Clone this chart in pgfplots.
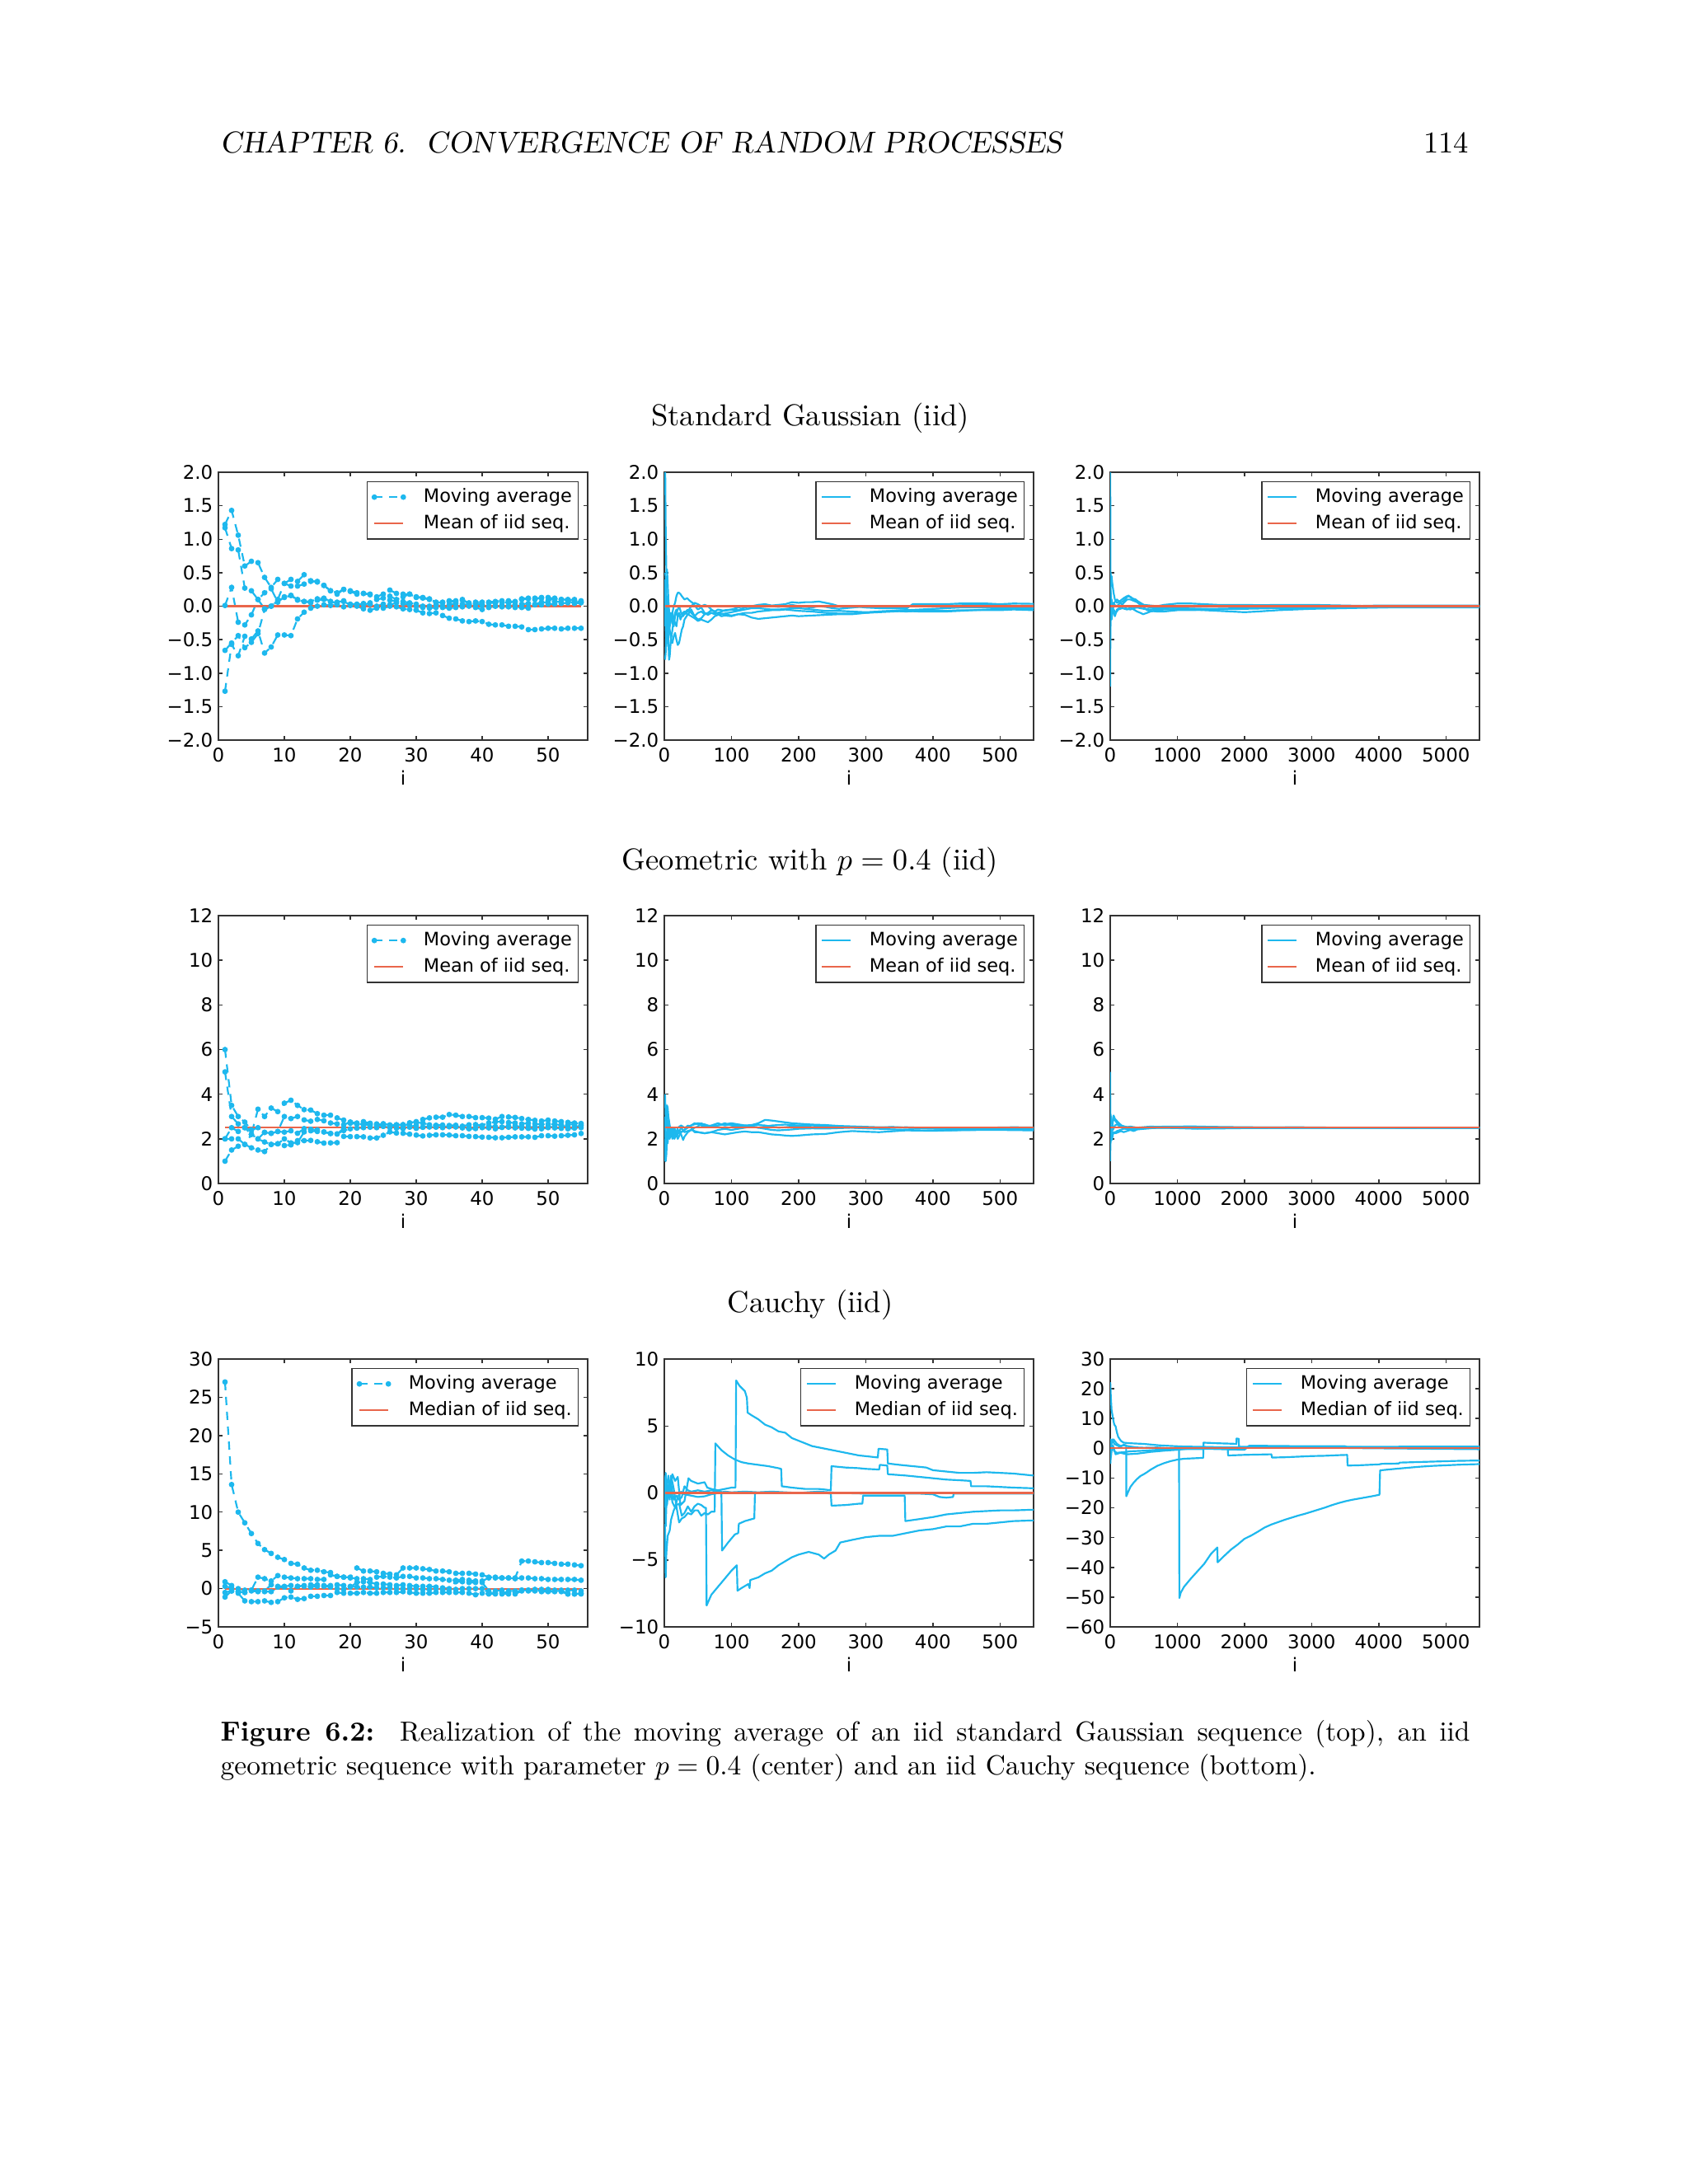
\documentclass[border=0pt]{standalone}
\usepackage{fontspec}
\usepackage{pgfplots}
\usepackage{pgfplotstable}
\pgfplotsset{compat=1.18}

\newfontfamily\plotfont{DejaVu Sans}
\newcommand\pf{\plotfont\fontsize{6.7}{8}\selectfont}
\newcommand\tf{\plotfont\fontsize{6.85}{8}\selectfont}
\newcommand\bk{\fontsize{10.95}{13.6}\selectfont}

\definecolor{cy}{HTML}{1DB8EE}
\definecolor{rd}{HTML}{E9664B}

\pgfplotsset{
  pane/.style={scale only axis, width=133.88pt, height=97.12pt, anchor=south west,
    scaled ticks=false,
    axis line style={black!80, line width=0.55pt},
    tick align=inside, tick pos=both, major tick length=1.6pt,
    every tick/.style={black!80, line width=0.45pt},
    ticklabel style={font=\tf},
    xticklabel style={inner sep=0pt, yshift=-2.7pt},
    yticklabel style={inner sep=0pt, xshift=-1.8pt},
    xlabel={i},
    xlabel style={font=\tf, at={(axis description cs:0.5,0)}, anchor=north, inner sep=0pt, yshift=-11pt},
    legend cell align=left,
    legend style={at={(1,1)}, anchor=north east, xshift=-3.2pt, yshift=-3.2pt,
      draw=black!80, line width=0.45pt, font=\pf, inner xsep=1.8pt, inner ysep=0.8pt,
      row sep=0pt, nodes={inner xsep=0.5pt, inner ysep=1.5pt},
      /tikz/every odd column/.append style={column sep=6pt}},
  },
  mdash/.style={cy, line width=0.65pt, dash pattern=on 3pt off 2.4pt, mark=*, mark size=0.85pt,
    mark options={solid, fill=cy, draw=cy, line width=0.3pt},
    legend image code/.code={\draw[##1] plot coordinates {(0pt,0pt) (10.5pt,0pt)};}},
  mline/.style={cy, line width=0.65pt, line join=round,
    legend image code/.code={\draw[##1] (0pt,0pt) -- (10.5pt,0pt);}},
  mref/.style={rd, line width=0.65pt,
    legend image code/.code={\draw[##1] (0pt,0pt) -- (10.5pt,0pt);}},
  xs/.style={xmin=0, xmax=56, xtick={0,10,20,30,40,50}, xticklabels={0,10,20,30,40,50}},
  xm/.style={xmin=0, xmax=550, xtick={0,100,200,300,400,500}, xticklabels={0,100,200,300,400,500}},
  xl/.style={xmin=0, xmax=5500, xtick={0,1000,2000,3000,4000,5000}, xticklabels={0,1000,2000,3000,4000,5000}},
  yg/.style={ymin=-2, ymax=2, ytick={-2,-1.5,-1,-0.5,0,0.5,1,1.5,2},
    yticklabels={−2.0,−1.5,−1.0,−0.5,0.0,0.5,1.0,1.5,2.0}},
  yq/.style={ymin=0, ymax=12, ytick={0,2,4,6,8,10,12}, yticklabels={0,2,4,6,8,10,12}},
  yc1/.style={ymin=-5, ymax=30, ytick={-5,0,5,10,15,20,25,30}, yticklabels={−5,0,5,10,15,20,25,30}},
  yc2/.style={ymin=-10, ymax=10, ytick={-10,-5,0,5,10}, yticklabels={−10,−5,0,5,10}},
  yc3/.style={ymin=-60, ymax=30, ytick={-60,-50,-40,-30,-20,-10,0,10,20,30},
    yticklabels={−60,−50,−40,−30,−20,−10,0,10,20,30}},
}

% moving averages, i = 1..55, five realizations each
\pgfplotstableread{
i a b c d e
1 1.22 1.17 0.01 -0.66 -1.27
2 1.43 0.86 0.28 -0.55 -0.57
3 1.06 0.84 -0.24 -0.44 -0.74
4 0.60 0.27 -0.28 -0.62 -0.45
5 0.67 0.23 -0.13 -0.54 -0.49
6 0.65 0.10 0.10 -0.41 -0.37
7 0.43 0.20 -0.04 -0.05 -0.70
8 0.28 0.26 0.00 0.00 -0.61
9 0.40 0.06 0.10 0.08 -0.43
10 0.34 0.14 0.34 0.13 -0.43
11 0.40 0.16 0.30 0.16 -0.44
12 0.37 0.10 0.30 0.09 -0.19
13 0.47 0.07 0.33 0.07 -0.09
14 0.37 0.07 0.38 0.05 -0.03
15 0.37 0.11 0.36 0.09 0.00
16 0.31 0.12 0.31 0.10 0.02
17 0.23 0.07 0.23 0.07 0.01
18 0.20 0.06 0.18 0.04 0.02
19 0.25 0.08 0.25 0.07 -0.01
20 0.23 0.03 0.22 0.02 0.01
21 0.20 0.03 0.18 0.02 0.00
22 0.19 0.02 0.19 0.04 -0.04
23 0.18 0.05 0.17 0.03 -0.06
24 0.14 0.00 0.10 -0.02 -0.03
25 0.18 0.03 0.12 -0.01 -0.03
26 0.24 0.09 0.15 0.02 0.00
27 0.19 0.07 0.10 0.05 -0.01
28 0.18 0.07 0.14 0.04 -0.04
29 0.18 0.05 0.18 0.02 -0.05
30 0.14 0.03 0.13 0.00 -0.06
31 0.13 0.00 0.12 -0.02 -0.10
32 0.11 0.00 0.10 -0.03 -0.11
33 0.06 0.02 0.05 -0.02 -0.10
34 0.05 0.00 0.06 -0.02 -0.14
35 0.08 0.02 0.07 -0.03 -0.18
36 0.08 0.04 0.06 -0.02 -0.19
37 0.09 0.03 0.10 -0.01 -0.22
38 0.05 0.02 0.03 0.00 -0.23
39 0.06 0.03 0.04 -0.02 -0.22
40 0.06 0.01 0.02 -0.05 -0.23
41 0.06 0.00 0.05 -0.02 -0.27
42 0.07 0.00 0.05 0.00 -0.28
43 0.08 0.01 0.06 -0.01 -0.28
44 0.08 0.00 0.05 -0.01 -0.30
45 0.06 0.02 0.07 -0.02 -0.30
46 0.10 0.03 0.11 -0.02 -0.31
47 0.11 0.04 0.12 -0.03 -0.35
48 0.10 0.03 0.12 0.02 -0.35
49 0.13 0.06 0.12 0.02 -0.34
50 0.13 0.05 0.08 0.03 -0.33
51 0.11 0.07 0.12 0.03 -0.33
52 0.10 0.06 0.10 0.04 -0.34
53 0.09 0.07 0.10 0.05 -0.33
54 0.10 0.05 0.08 0.04 -0.33
55 0.08 0.06 0.06 0.05 -0.33
}\gausssmall

\pgfplotstableread{
i a b c d e
1 6.0 5.0 2.0 2.0 1.0
2 3.5 3.0 2.5 2.0 1.5
3 3.0 2.67 2.33 2.0 1.67
4 2.75 2.5 2.5 1.75 1.75
5 2.4 2.2 2.4 2.2 1.6
6 2.5 3.33 2.0 2.0 1.5
7 2.29 3.0 2.29 1.86 1.43
8 2.25 3.38 2.25 1.75 1.75
9 2.33 3.22 2.33 1.78 1.78
10 2.3 3.6 3.0 2.0 1.7
11 2.36 3.73 2.91 1.82 1.73
12 2.25 3.5 3.0 1.83 1.92
13 2.46 3.31 2.85 2.31 1.92
14 2.43 3.29 2.79 2.36 1.93
15 2.4 3.13 2.87 2.33 1.87
16 2.31 3.06 2.81 2.31 1.81
17 2.24 3.06 2.71 2.24 1.82
18 2.22 2.94 2.67 2.22 1.83
19 2.47 2.84 2.63 2.37 2.11
20 2.7 2.75 2.75 2.45 2.1
21 2.67 2.71 2.67 2.48 2.1
22 2.73 2.77 2.64 2.5 2.09
23 2.65 2.7 2.61 2.52 2.04
24 2.67 2.63 2.58 2.5 2.04
25 2.6 2.68 2.56 2.56 2.16
26 2.62 2.62 2.54 2.5 2.31
27 2.63 2.63 2.59 2.48 2.26
28 2.61 2.64 2.57 2.46 2.25
29 2.55 2.72 2.69 2.52 2.21
30 2.6 2.77 2.73 2.47 2.17
31 2.52 2.87 2.71 2.52 2.13
32 2.56 2.94 2.63 2.53 2.16
33 2.55 2.97 2.61 2.52 2.18
34 2.5 2.97 2.62 2.56 2.18
35 2.57 3.09 2.6 2.54 2.17
36 2.53 3.06 2.61 2.56 2.14
37 2.49 3.0 2.57 2.51 2.14
38 2.45 3.0 2.63 2.5 2.11
39 2.46 2.95 2.64 2.49 2.1
40 2.5 2.95 2.6 2.58 2.08
41 2.49 2.93 2.71 2.56 2.07
42 2.45 2.88 2.76 2.55 2.05
43 2.51 3.0 2.77 2.53 2.05
44 2.52 2.98 2.73 2.57 2.07
45 2.49 2.96 2.71 2.58 2.09
46 2.48 2.91 2.67 2.54 2.09
47 2.47 2.87 2.7 2.55 2.09
48 2.44 2.83 2.67 2.52 2.07
49 2.45 2.8 2.65 2.55 2.14
50 2.5 2.84 2.66 2.54 2.14
51 2.49 2.8 2.65 2.53 2.12
52 2.47 2.77 2.62 2.57 2.14
53 2.45 2.74 2.64 2.56 2.16
54 2.48 2.71 2.65 2.55 2.18
55 2.5 2.69 2.62 2.58 2.24
}\geomsmall

\pgfplotstableread{
i a b c d e
1 27.0 0.9 0.3 -0.5 -1.1
2 13.6 0.4 0.1 -0.3 -0.3
3 10.0 0.0 -0.4 -0.6 -0.4
4 8.6 -0.2 -0.5 -1.6 -0.5
5 7.2 -0.2 -0.2 -1.7 -0.3
6 5.9 1.5 -0.3 -1.7 -0.4
7 5.1 1.3 -0.3 -1.6 -0.4
8 4.6 1.0 0.5 -1.8 -0.4
9 4.1 1.7 0.3 -1.7 0.2
10 3.8 1.5 0.3 -1.2 0.2
11 3.3 1.4 0.4 -1.1 -0.3
12 3.2 1.3 0.3 -1.4 0.3
13 2.7 1.3 0.4 -1.3 0.3
14 2.4 1.3 0.5 -1.0 0.2
15 2.4 1.2 0.5 -1.0 0.3
16 2.2 1.2 0.4 -0.9 0.3
17 2.1 1.8 0.4 -0.9 0.2
18 1.6 1.6 0.0 -0.5 0.5
19 1.5 1.5 -0.1 -0.6 0.4
20 1.4 1.5 0.2 -0.6 0.3
21 1.3 2.7 0.8 -0.6 0.2
22 1.3 2.3 0.9 -0.5 0.2
23 1.2 2.3 0.8 -0.6 0.2
24 1.5 2.2 0.6 -0.6 0.1
25 1.6 2.0 0.6 -0.5 0.1
26 1.5 1.9 0.5 -0.5 0.1
27 1.4 1.8 0.4 -0.5 0.0
28 1.6 2.7 0.5 -0.4 0.0
29 1.6 2.7 0.4 -0.5 0.0
30 1.4 2.7 0.3 -0.6 0.0
31 1.4 2.6 0.3 -0.6 -0.1
32 1.3 2.5 0.3 -0.6 -0.1
33 1.3 2.3 0.2 -0.5 0.0
34 1.2 2.3 0.1 -0.5 -0.1
35 1.1 2.2 0.0 -0.5 -0.1
36 1.1 2.0 0.9 -0.5 -0.1
37 1.2 2.0 0.9 -0.5 0.0
38 1.1 2.0 0.8 -0.6 0.0
39 1.0 1.9 0.8 -0.8 0.0
40 1.0 1.8 0.8 -0.6 0.0
41 1.4 1.5 -0.3 -0.7 -0.5
42 1.4 1.5 -0.3 -0.7 -0.6
43 1.4 1.4 -0.2 -0.7 -0.5
44 1.4 1.4 -0.3 -0.7 -0.5
45 1.3 1.4 -0.3 -0.7 -0.5
46 1.4 3.6 -0.2 -0.3 -0.2
47 1.4 3.6 -0.2 -0.3 -0.2
48 1.3 3.5 -0.2 -0.3 -0.1
49 1.3 3.4 -0.3 -0.4 -0.1
50 1.2 3.4 -0.2 -0.4 -0.1
51 1.2 3.3 -0.3 -0.4 -0.2
52 1.2 3.2 -0.3 -0.4 -0.2
53 1.2 3.2 -0.2 -0.7 -0.7
54 1.2 3.1 -0.2 -0.7 -0.7
55 1.1 3.0 -0.3 -0.7 -0.6
}\cauchysmall

\begin{document}
\begin{tikzpicture}
\fill[white] (0,0) rectangle (612pt,-791.9pt);
\path[use as bounding box] (0,0) rectangle (612pt,-791.9pt);

% running head
\node[anchor=base west, inner sep=0] at (79.8pt,-55.3pt) {\bk\slshape CHAPTER 6.\ \ CONVERGENCE OF RANDOM PROCESSES};
\node[anchor=base east, inner sep=0] at (532.7pt,-55.3pt) {\bk 114};

% row titles
\node[anchor=base, inner sep=0] at (293.75pt,-154.2pt) {\bk Standard Gaussian (iid)};
\node[anchor=base, inner sep=0] at (293.75pt,-315.3pt) {\bk Geometric with $p=0.4$ (iid)};
\node[anchor=base, inner sep=0] at (293.75pt,-475.9pt) {\bk Cauchy (iid)};

%%%%%%%%%%%%%%%% Gaussian
\begin{axis}[pane, xs, yg, at={(79.19pt,-268.35pt)}]
\addplot[mdash] table[x=i,y=a] {\gausssmall};
\addlegendentry{Moving average}
\addplot[mdash, forget plot] table[x=i,y=b] {\gausssmall};
\addplot[mdash, forget plot] table[x=i,y=c] {\gausssmall};
\addplot[mdash, forget plot] table[x=i,y=d] {\gausssmall};
\addplot[mdash, forget plot] table[x=i,y=e] {\gausssmall};
\addplot[mref] coordinates {(1,0) (55,0)};
\addlegendentry{Mean of iid seq.}
\end{axis}

\begin{axis}[pane, xm, yg, at={(240.86pt,-268.35pt)}]
\addplot[mline] coordinates {(1,2.4) (2,1.2) (3,0.5) (4,0.55) (5,0.35) (6,0.1) (7,-0.05) (8,-0.2) (10,-0.1) (12,-0.25) (14,-0.3) (16,-0.15) (18,-0.1) (20,-0.05) (22,0.0) (25,-0.1) (28,-0.15) (30,-0.1) (35,-0.05) (40,-0.1) (45,-0.15) (50,-0.2) (55,-0.18) (60,-0.12) (65,-0.1) (70,-0.06) (75,-0.08) (80,-0.05) (90,-0.07) (100,-0.05) (110,-0.02) (120,0.0) (130,-0.02) (140,0.01) (150,0.0) (160,0.0) (170,-0.01) (180,0.0) (190,0.02) (200,0.0) (210,-0.01) (220,-0.02) (230,0.0) (240,-0.01) (250,-0.03) (260,-0.04) (270,-0.03) (280,-0.02) (290,-0.01) (300,0.0) (320,-0.02) (340,-0.03) (360,-0.03) (370,0.02) (400,0.02) (430,0.01) (460,0.02) (490,0.02) (520,0.01) (550,0.0)};
\addlegendentry{Moving average}
\addplot[mline, forget plot] coordinates {(1,0.5) (2,0.45) (3,0.3) (4,-0.3) (5,-0.2) (6,-0.5) (7,-0.8) (8,-0.75) (9,-0.6) (10,-0.5) (12,-0.35) (14,-0.2) (16,-0.1) (18,-0.05) (20,-0.15) (25,-0.12) (30,-0.08) (35,-0.13) (40,-0.05) (45,-0.15) (50,-0.1) (55,-0.08) (60,-0.12) (70,-0.1) (80,-0.1) (90,-0.06) (100,-0.05) (110,-0.06) (120,-0.02) (130,0.0) (140,0.02) (150,0.03) (160,0.01) (170,0.02) (180,0.03) (190,0.06) (200,0.05) (210,0.06) (220,0.06) (230,0.07) (240,0.05) (250,0.03) (260,0.0) (270,-0.02) (280,-0.02) (290,-0.01) (300,-0.02) (320,-0.03) (340,-0.03) (360,-0.04) (370,0.03) (380,0.03) (400,0.03) (420,0.03) (440,0.04) (460,0.04) (480,0.04) (500,0.03) (520,0.04) (550,0.035)};
\addplot[mline, forget plot] coordinates {(1,-0.8) (2,-0.7) (3,-0.3) (4,-0.1) (5,0.0) (6,-0.15) (8,-0.3) (10,-0.2) (12,-0.1) (14,0.0) (16,0.05) (18,0.15) (20,0.2) (22,0.2) (24,0.18) (26,0.15) (30,0.1) (34,0.12) (38,0.08) (42,0.05) (46,0.0) (50,-0.05) (55,-0.02) (60,-0.1) (65,-0.13) (70,-0.1) (75,-0.12) (80,-0.1) (90,-0.12) (100,-0.14) (110,-0.12) (120,-0.13) (130,-0.17) (140,-0.19) (150,-0.18) (160,-0.17) (170,-0.16) (180,-0.15) (190,-0.14) (200,-0.15) (220,-0.14) (240,-0.13) (260,-0.12) (280,-0.12) (300,-0.1) (320,-0.08) (340,-0.07) (360,-0.08) (380,-0.07) (400,-0.06) (420,-0.07) (440,-0.06) (460,-0.06) (480,-0.06) (500,-0.06) (520,-0.05) (550,-0.06)};
\addplot[mline, forget plot] coordinates {(1,0.4) (2,-0.3) (3,-0.6) (4,-0.45) (5,-0.3) (6,-0.2) (8,-0.35) (10,-0.5) (12,-0.55) (14,-0.45) (16,-0.4) (18,-0.5) (20,-0.58) (22,-0.55) (24,-0.45) (26,-0.35) (28,-0.3) (30,-0.2) (35,-0.12) (40,-0.15) (45,-0.18) (50,-0.22) (55,-0.2) (60,-0.22) (65,-0.24) (70,-0.2) (75,-0.15) (80,-0.13) (90,-0.11) (100,-0.09) (110,-0.07) (120,-0.05) (130,-0.03) (140,-0.03) (150,-0.04) (160,-0.05) (170,-0.05) (180,-0.04) (190,-0.03) (200,-0.03) (220,-0.05) (240,-0.07) (260,-0.07) (280,-0.08) (300,-0.09) (320,-0.08) (340,-0.07) (360,-0.06) (380,-0.05) (400,-0.04) (420,-0.03) (440,-0.02) (460,-0.02) (480,-0.02) (500,-0.02) (520,-0.03) (550,-0.03)};
\addplot[mline, forget plot] coordinates {(1,-0.3) (2,0.1) (3,-0.1) (4,0.0) (5,-0.35) (6,-0.4) (8,-0.3) (10,-0.15) (12,-0.1) (14,-0.2) (16,-0.25) (18,-0.3) (20,-0.15) (22,-0.1) (24,-0.2) (26,-0.15) (30,-0.12) (35,-0.08) (40,0.0) (45,0.05) (50,0.03) (55,0.0) (60,0.02) (65,0.0) (70,-0.05) (75,-0.08) (80,-0.12) (85,-0.15) (90,-0.14) (100,-0.15) (110,-0.12) (120,-0.1) (130,-0.1) (140,-0.08) (150,-0.07) (160,-0.06) (170,-0.06) (180,-0.05) (200,-0.07) (220,-0.08) (240,-0.1) (260,-0.11) (280,-0.11) (300,-0.1) (320,-0.09) (340,-0.08) (360,-0.07) (380,-0.08) (400,-0.08) (420,-0.08) (440,-0.07) (460,-0.06) (480,-0.05) (500,-0.04) (520,-0.03) (550,-0.02)};
\addplot[mref] coordinates {(1,0) (550,0)};
\addlegendentry{Mean of iid seq.}
\end{axis}

\begin{axis}[pane, xl, yg, at={(402.52pt,-268.35pt)}]
\addplot[mline] coordinates {(1,2.2) (3,1.0) (5,0.5) (10,0.3) (20,0.45) (30,0.35) (50,0.2) (70,0.1) (100,0.05) (150,0.08) (200,0.12) (250,0.15) (300,0.14) (350,0.1) (400,0.08) (450,0.05) (500,0.02) (600,0.01) (700,0.0) (800,0.02) (900,0.03) (1000,0.04) (1200,0.04) (1400,0.03) (1600,0.02) (1800,0.02) (2000,0.02) (2500,0.01) (3000,0.01) (3500,0.0) (4000,0.01) (4500,0.01) (5000,0.01) (5500,0.01)};
\addlegendentry{Moving average}
\addplot[mline, forget plot] coordinates {(1,-1.2) (2,-0.6) (4,-0.3) (6,-0.1) (10,-0.2) (15,-0.05) (20,0.1) (30,0.0) (50,-0.1) (70,-0.15) (100,-0.05) (150,-0.02) (200,0.05) (250,0.1) (300,0.1) (350,0.08) (400,0.06) (450,0.02) (500,0.0) (600,-0.02) (700,-0.03) (800,-0.02) (1000,-0.03) (1200,-0.05) (1400,-0.06) (1600,-0.07) (1800,-0.08) (2000,-0.09) (2200,-0.08) (2500,-0.06) (3000,-0.04) (3500,-0.03) (4000,-0.02) (4500,-0.02) (5000,-0.02) (5500,-0.02)};
\addplot[mline, forget plot] coordinates {(1,0.4) (2,-0.3) (4,0.1) (8,-0.15) (12,-0.1) (20,-0.2) (30,-0.12) (50,-0.05) (80,-0.1) (120,-0.05) (180,-0.03) (250,-0.05) (300,-0.02) (350,-0.05) (400,-0.08) (450,-0.1) (490,-0.12) (550,-0.1) (600,-0.08) (700,-0.06) (800,-0.05) (1000,-0.05) (1200,-0.04) (1500,-0.04) (2000,-0.03) (2500,-0.02) (3000,-0.01) (4000,-0.01) (5000,-0.01) (5500,0.0)};
\addplot[mline, forget plot] coordinates {(1,-0.5) (3,0.3) (6,0.2) (10,0.05) (20,-0.1) (40,0.05) (60,0.02) (100,0.0) (150,0.05) (200,0.08) (270,0.16) (320,0.12) (380,0.1) (450,0.03) (500,-0.02) (550,-0.06) (600,-0.07) (700,-0.08) (800,-0.08) (900,-0.07) (1000,-0.06) (1200,-0.06) (1500,-0.05) (2000,-0.04) (2500,-0.03) (3000,-0.03) (3500,-0.02) (4000,-0.02) (4500,-0.01) (5500,-0.01)};
\addplot[mline, forget plot] coordinates {(1,0.1) (2,0.5) (4,-0.2) (8,0.2) (15,0.1) (25,0.0) (40,-0.05) (60,0.05) (100,0.1) (150,0.05) (200,0.0) (250,-0.04) (300,-0.05) (350,-0.03) (400,-0.02) (500,-0.04) (600,-0.05) (700,-0.04) (800,-0.03) (1000,-0.02) (1300,-0.01) (1600,0.0) (2000,0.01) (2500,0.02) (3000,0.02) (3500,0.01) (4000,0.0) (5500,0.0)};
\addplot[mref] coordinates {(1,0) (5500,0)};
\addlegendentry{Mean of iid seq.}
\end{axis}

%%%%%%%%%%%%%%%% Geometric
\begin{axis}[pane, xs, yq, at={(79.19pt,-429.12pt)}]
\addplot[mdash] table[x=i,y=a] {\geomsmall};
\addlegendentry{Moving average}
\addplot[mdash, forget plot] table[x=i,y=b] {\geomsmall};
\addplot[mdash, forget plot] table[x=i,y=c] {\geomsmall};
\addplot[mdash, forget plot] table[x=i,y=d] {\geomsmall};
\addplot[mdash, forget plot] table[x=i,y=e] {\geomsmall};
\addplot[mref] coordinates {(1,2.5) (55,2.5)};
\addlegendentry{Mean of iid seq.}
\end{axis}

\begin{axis}[pane, xm, yq, at={(240.86pt,-429.12pt)}]
\addplot[mline] coordinates {(1,4.0) (2,3.0) (3,2.7) (4,3.5) (5,3.4) (6,3.0) (8,2.6) (10,2.4) (12,2.2) (15,2.1) (18,2.3) (20,2.4) (25,2.2) (28,1.95) (30,2.1) (35,2.3) (40,2.4) (45,2.5) (50,2.55) (55,2.7) (60,2.6) (70,2.55) (80,2.6) (90,2.65) (100,2.7) (110,2.65) (120,2.6) (130,2.62) (140,2.7) (150,2.85) (160,2.82) (170,2.78) (180,2.74) (190,2.7) (200,2.68) (220,2.64) (240,2.62) (260,2.58) (280,2.56) (300,2.54) (320,2.52) (340,2.53) (360,2.5) (380,2.48) (400,2.46) (420,2.45) (450,2.44) (480,2.45) (500,2.46) (520,2.45) (550,2.44)};
\addlegendentry{Moving average}
\addplot[mline, forget plot] coordinates {(1,1.0) (2,1.0) (3,1.3) (4,2.0) (5,1.8) (6,2.3) (8,2.0) (10,2.5) (12,2.3) (15,2.5) (18,2.2) (20,2.0) (25,2.3) (30,2.4) (35,2.6) (40,2.5) (45,2.3) (50,2.3) (60,2.25) (70,2.3) (80,2.25) (90,2.2) (100,2.25) (110,2.3) (120,2.33) (130,2.3) (140,2.3) (150,2.25) (160,2.2) (170,2.18) (180,2.15) (190,2.13) (200,2.15) (220,2.2) (240,2.22) (260,2.3) (280,2.35) (300,2.32) (320,2.3) (340,2.34) (360,2.38) (380,2.37) (400,2.36) (420,2.38) (450,2.4) (480,2.42) (500,2.43) (520,2.45) (550,2.47)};
\addplot[mline, forget plot] coordinates {(1,2.0) (2,1.5) (3,2.3) (4,2.0) (5,2.8) (6,2.5) (8,2.2) (10,2.3) (12,2.0) (15,2.4) (18,2.3) (20,2.5) (25,2.6) (30,2.5) (35,2.55) (40,2.6) (45,2.65) (50,2.7) (60,2.65) (70,2.55) (80,2.6) (90,2.7) (100,2.6) (110,2.55) (120,2.6) (130,2.55) (140,2.5) (150,2.55) (160,2.6) (170,2.62) (180,2.64) (190,2.62) (200,2.6) (220,2.62) (240,2.6) (260,2.55) (280,2.52) (300,2.5) (320,2.5) (340,2.52) (360,2.5) (380,2.48) (400,2.47) (420,2.46) (450,2.47) (480,2.5) (500,2.51) (520,2.52) (550,2.51)};
\addplot[mline, forget plot] coordinates {(1,3.0) (2,2.0) (3,2.3) (4,1.8) (5,2.2) (6,2.0) (8,2.4) (10,2.2) (12,2.5) (15,2.3) (18,2.1) (20,2.2) (25,2.5) (30,2.3) (35,2.35) (40,2.4) (45,2.35) (50,2.3) (60,2.25) (70,2.3) (80,2.4) (90,2.45) (100,2.4) (110,2.45) (120,2.5) (130,2.55) (140,2.5) (150,2.45) (160,2.4) (170,2.38) (180,2.4) (190,2.42) (200,2.45) (220,2.47) (240,2.46) (260,2.48) (280,2.5) (300,2.47) (320,2.45) (340,2.42) (360,2.4) (380,2.38) (400,2.37) (420,2.38) (450,2.39) (480,2.4) (500,2.4) (520,2.39) (550,2.38)};
\addplot[mline, forget plot] coordinates {(1,1.0) (2,2.5) (3,3.3) (4,3.0) (5,2.6) (6,2.8) (8,2.4) (10,2.1) (12,2.3) (15,2.0) (18,2.2) (20,2.4) (25,2.3) (30,2.4) (35,2.5) (40,2.6) (45,2.7) (50,2.65) (60,2.55) (70,2.6) (80,2.7) (90,2.6) (100,2.65) (110,2.6) (120,2.55) (130,2.6) (140,2.62) (150,2.6) (160,2.55) (170,2.5) (180,2.52) (190,2.55) (200,2.57) (220,2.6) (240,2.58) (260,2.55) (280,2.5) (300,2.48) (320,2.48) (340,2.5) (360,2.52) (380,2.5) (400,2.48) (420,2.47) (450,2.46) (480,2.48) (500,2.49) (520,2.5) (550,2.49)};
\addplot[mref] coordinates {(1,2.5) (550,2.5)};
\addlegendentry{Mean of iid seq.}
\end{axis}

\begin{axis}[pane, xl, yq, at={(402.52pt,-429.12pt)}]
\addplot[mline] coordinates {(1,5.0) (2,3.0) (4,2.5) (8,2.2) (15,2.6) (25,2.3) (40,2.8) (50,3.05) (70,2.9) (100,2.8) (130,2.7) (170,2.6) (220,2.55) (300,2.5) (400,2.48) (500,2.5) (600,2.52) (800,2.55) (1000,2.55) (1200,2.56) (1500,2.54) (2000,2.52) (2500,2.51) (3000,2.5) (4000,2.5) (5000,2.5) (5500,2.5)};
\addlegendentry{Moving average}
\addplot[mline, forget plot] coordinates {(1,1.0) (2,1.5) (4,2.0) (8,2.3) (15,2.1) (25,1.95) (40,2.2) (60,2.3) (80,2.25) (120,2.3) (160,2.35) (200,2.3) (250,2.35) (300,2.4) (400,2.45) (500,2.48) (700,2.5) (1000,2.48) (1300,2.45) (1500,2.46) (2000,2.48) (2500,2.49) (3000,2.5) (5500,2.5)};
\addplot[mline, forget plot] coordinates {(1,3.0) (2,2.0) (4,3.1) (8,2.9) (15,3.0) (25,2.7) (40,2.8) (60,2.9) (90,2.75) (130,2.6) (170,2.5) (230,2.45) (300,2.4) (350,2.35) (400,2.42) (500,2.45) (700,2.5) (1000,2.5) (1500,2.52) (2000,2.51) (2800,2.52) (3500,2.5) (5500,2.49)};
\addplot[mline, forget plot] coordinates {(1,2.0) (2,2.5) (4,2.2) (8,2.5) (15,2.4) (25,2.5) (40,2.4) (70,2.6) (100,2.65) (150,2.55) (200,2.5) (300,2.55) (400,2.5) (600,2.55) (800,2.53) (1000,2.52) (1500,2.5) (2000,2.49) (3000,2.5) (5500,2.5)};
\addplot[mline, forget plot] coordinates {(1,4.0) (2,2.0) (4,1.8) (8,2.0) (15,2.3) (25,2.2) (40,2.3) (60,2.25) (100,2.35) (150,2.4) (200,2.45) (300,2.48) (400,2.45) (600,2.48) (800,2.5) (1000,2.5) (1500,2.48) (2000,2.5) (3000,2.49) (5500,2.5)};
\addplot[mref] coordinates {(1,2.5) (5500,2.5)};
\addlegendentry{Mean of iid seq.}
\end{axis}

%%%%%%%%%%%%%%%% Cauchy
\begin{axis}[pane, xs, yc1, at={(79.19pt,-589.89pt)}]
\addplot[mdash] table[x=i,y=a] {\cauchysmall};
\addlegendentry{Moving average}
\addplot[mdash, forget plot] table[x=i,y=b] {\cauchysmall};
\addplot[mdash, forget plot] table[x=i,y=c] {\cauchysmall};
\addplot[mdash, forget plot] table[x=i,y=d] {\cauchysmall};
\addplot[mdash, forget plot] table[x=i,y=e] {\cauchysmall};
\addplot[mref] coordinates {(1,0) (55,0)};
\addlegendentry{Median of iid seq.}
\end{axis}

\begin{axis}[pane, xm, yc2, at={(240.86pt,-589.89pt)}]
\addplot[mline] coordinates {(1,1.2) (2,-2.5) (4,0.5) (6,1.3) (9,0.2) (12,1.4) (16,0.9) (20,1.2) (24,-0.9) (30,-0.6) (36,1.1) (40,0.9) (50,0.7) (60,0.8) (64,0.4) (70,0.3) (80,0.2) (90,0.3) (100,0.4) (106,0.4) (107,8.4) (112,8.0) (120,7.6) (123,7.1) (124,6.0) (130,5.8) (140,5.5) (150,5.1) (160,4.9) (170,4.6) (180,4.5) (190,4.1) (200,3.9) (210,3.7) (220,3.5) (230,3.4) (240,3.3) (250,3.2) (260,3.1) (270,3.0) (280,2.9) (290,2.8) (300,2.75) (318,2.65) (319,3.3) (332,3.25) (333,2.2) (350,2.1) (370,2.0) (390,1.9) (400,1.7) (420,1.6) (440,1.5) (460,1.5) (480,1.55) (500,1.5) (520,1.45) (550,1.3)};
\addlegendentry{Moving average}
\addplot[mline, forget plot] coordinates {(1,0.8) (2,1.3) (3,-0.4) (5,0.6) (8,-0.5) (10,1.3) (14,0.3) (18,-1.0) (22,-2.2) (26,-1.9) (30,-1.8) (35,-1.5) (40,-1.6) (45,-1.3) (50,-1.3) (55,-1.7) (60,-1.5) (65,-1.6) (70,-1.4) (75,-1.4) (76,3.7) (85,3.2) (95,2.8) (105,2.5) (115,2.3) (125,2.2) (140,2.1) (155,2.0) (170,1.85) (174,1.8) (175,0.5) (190,0.4) (210,0.3) (230,0.3) (240,0.25) (248,0.2) (249,2.0) (270,1.9) (290,1.85) (300,1.8) (320,1.75) (321,2.1) (332,2.05) (333,1.4) (360,1.3) (380,1.2) (400,1.1) (420,1.0) (440,0.95) (456,0.9) (457,0.5) (480,0.5) (500,0.45) (520,0.4) (550,0.35)};
\addplot[mline, forget plot] coordinates {(1,-2.3) (2,-6.3) (3,-4.5) (5,-3.2) (8,-2.8) (10,-2.0) (14,-1.3) (18,-0.9) (22,-0.8) (26,-1.7) (30,-1.5) (35,-1.0) (40,-1.4) (45,-1.0) (50,-0.8) (55,-0.9) (60,-1.1) (62,-1.1) (63,-8.4) (70,-7.6) (80,-7.0) (90,-6.4) (100,-5.8) (108,-5.4) (109,-7.3) (115,-7.1) (125,-6.8) (127,-7.1) (128,-6.5) (140,-6.3) (150,-6.0) (160,-5.8) (170,-5.4) (180,-5.1) (190,-4.8) (200,-4.6) (215,-4.4) (230,-4.6) (238,-4.9) (245,-4.6) (255,-4.3) (262,-3.7) (280,-3.5) (300,-3.3) (320,-3.2) (340,-3.2) (360,-3.0) (380,-2.8) (400,-2.7) (420,-2.5) (440,-2.5) (460,-2.3) (480,-2.3) (500,-2.2) (520,-2.1) (550,-2.05)};
\addplot[mline, forget plot] coordinates {(1,0.5) (2,1.0) (4,-0.9) (6,0.3) (10,0.7) (14,-0.5) (18,-0.2) (22,-0.5) (26,-0.3) (30,0.5) (35,0.2) (40,0.1) (50,0.2) (60,0.1) (70,0.2) (80,0.1) (85,0.1) (86,-4.3) (95,-3.7) (105,-3.1) (110,-3.0) (111,-2.3) (120,-2.1) (134,-1.9) (135,0.0) (150,0.05) (170,0.0) (200,0.0) (220,0.05) (240,0.0) (248,-0.05) (249,-0.95) (270,-0.9) (290,-0.8) (295,-0.8) (296,-0.2) (320,-0.2) (340,-0.2) (358,-0.2) (359,-2.1) (380,-1.95) (400,-1.8) (420,-1.6) (440,-1.5) (460,-1.4) (480,-1.35) (500,-1.3) (520,-1.3) (550,-1.25)};
\addplot[mline, forget plot] coordinates {(1,-1.0) (2,1.5) (3,0.1) (5,-0.3) (8,0.8) (12,-0.7) (16,-1.1) (20,-0.3) (25,0.1) (30,-0.1) (40,-0.2) (50,-0.3) (60,-0.25) (70,-0.1) (80,0.0) (90,0.1) (100,0.05) (120,0.1) (140,0.05) (160,0.1) (180,0.05) (200,0.0) (230,0.1) (260,0.0) (300,-0.05) (340,-0.05) (380,-0.05) (400,-0.1) (410,-0.3) (420,-0.35) (430,-0.3) (431,-0.05) (460,-0.05) (500,-0.05) (550,-0.05)};
\addplot[mref] coordinates {(1,0) (550,0)};
\addlegendentry{Median of iid seq.}
\end{axis}

\begin{axis}[pane, xl, yc3, at={(402.52pt,-589.89pt)}]
\addplot[mline] coordinates {(1,-4) (5,-3) (10,0) (20,2) (50,3) (100,1.5) (150,0.8) (200,1.0) (300,0.6) (400,0.3) (500,0.2) (700,0.3) (900,0.0) (1025,-0.2) (1030,-50.3) (1050,-48.5) (1100,-46.5) (1200,-43.8) (1300,-41.3) (1400,-38.8) (1500,-35.5) (1595,-33.3) (1600,-38.3) (1700,-36.1) (1800,-34) (1900,-32.3) (2000,-30.4) (2100,-29.3) (2200,-28) (2300,-26.6) (2400,-25.6) (2500,-24.8) (2600,-24) (2700,-23.3) (2800,-22.6) (2900,-22) (3000,-21.3) (3100,-20.6) (3200,-19.9) (3300,-19.1) (3400,-18.4) (3500,-17.8) (3600,-17.3) (3700,-16.9) (3800,-16.5) (3900,-16.1) (4010,-15.6) (4020,-7.4) (4200,-7.0) (4400,-6.6) (4600,-6.2) (4800,-5.9) (5000,-5.7) (5200,-5.5) (5500,-5.3)};
\addlegendentry{Moving average}
\addplot[mline, forget plot] coordinates {(1,3) (3,-5) (8,-2) (15,1) (30,3) (60,1.5) (100,1) (150,0.5) (200,1.2) (238,1.0) (240,-16.1) (260,-15) (300,-13) (350,-11.5) (400,-10.3) (450,-9.3) (500,-8.7) (550,-8.0) (600,-7.2) (700,-5.9) (800,-5.0) (900,-4.3) (1000,-3.8) (1100,-3.5) (1200,-3.4) (1385,-3.2) (1390,1.9) (1500,1.8) (1600,1.7) (1750,1.6) (1880,1.5) (1882,3.3) (1915,3.2) (1918,0.5) (2000,0.5) (2500,0.4) (3000,0.3) (3500,0.4) (4000,0.3) (4500,0.3) (5000,0.2) (5500,0.2)};
\addplot[mline, forget plot] coordinates {(1,-2) (3,3) (10,-3) (20,-1) (40,1) (80,-2) (150,-1.5) (250,-2) (400,-1.8) (600,-1.2) (800,-0.8) (1000,-0.5) (1200,0.0) (1400,0.2) (1600,0.1) (1750,0.1) (1755,-2.4) (2000,-2.2) (2200,-2.1) (2400,-2.0) (2410,-3.1) (2600,-3.0) (2800,-2.8) (3000,-2.6) (3200,-2.5) (3400,-2.3) (3530,-2.2) (3535,-5.8) (3700,-5.7) (3900,-5.5) (4000,-5.4) (4050,-5.2) (4300,-5.1) (4310,-4.8) (4600,-4.6) (4900,-4.4) (5200,-4.2) (5500,-4.1)};
\addplot[mline, forget plot] coordinates {(1,22.2) (5,20) (10,17) (20,13) (40,10.2) (60,8) (80,7.4) (100,5.3) (120,3.8) (160,2.5) (200,1.9) (300,1.7) (490,1.5) (735,1.0) (900,0.8) (1100,0.6) (1400,0.5) (1750,0.3) (2000,0.3) (2500,0.4) (3000,0.4) (3500,0.5) (4000,0.5) (4500,0.6) (5000,0.6) (5500,0.6)};
\addplot[mline, forget plot] coordinates {(1,-5) (2,1) (4,-3) (8,2) (15,-1) (30,1) (60,-1) (100,-1.5) (200,-1.3) (300,-1) (500,-0.8) (700,-0.5) (1000,-0.3) (1500,-0.2) (2000,-0.5) (2070,0.9) (2500,0.8) (3000,0.7) (3500,0.7) (3550,0.1) (4000,0.0) (5000,-0.2) (5500,-0.3)};
\addplot[mref] coordinates {(1,0) (5500,0)};
\addlegendentry{Median of iid seq.}
\end{axis}

% caption
\node[anchor=base west, inner sep=0] at (79.8pt,-631.4pt) {\parbox[t]{453pt}{\fontsize{10}{12.1}\selectfont
\textbf{Figure 6.2:}\ \ Realization of the moving average of an iid standard Gaussian sequence (top), an iid\linebreak
geometric sequence with parameter $p=0.4$ (center) and an iid Cauchy sequence (bottom).}};
\end{tikzpicture}
\end{document}
